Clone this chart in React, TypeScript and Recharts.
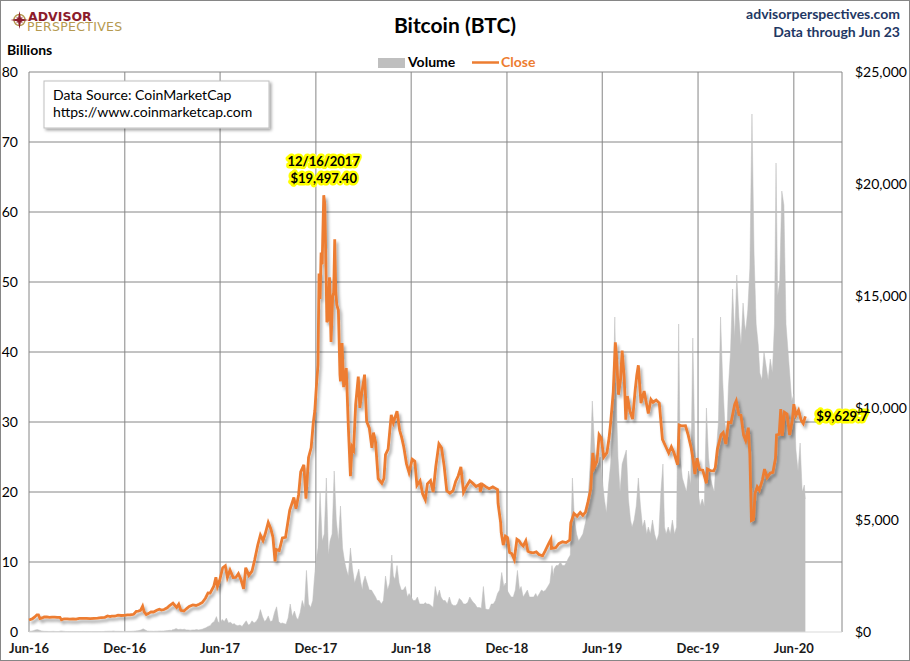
import React from 'react';
import { ComposedChart, Area, Line, XAxis, YAxis, CartesianGrid, ReferenceDot } from 'recharts';

const FONT = 'Lato, "Open Sans", sans-serif';
const ORANGE = '#ED7D31';
const GREY = '#BFBFBF';
const NAVY = '#1F3864';

// ---------- axes / categories ----------
const xTickDates = ['2016-06-01', '2016-12-01', '2017-06-01', '2017-12-01', '2018-06-01', '2018-12-01', '2019-06-01', '2019-12-01', '2020-06-01'];
const xTickLabels = ['Jun-16', 'Dec-16', 'Jun-17', 'Dec-17', 'Jun-18', 'Dec-18', 'Jun-19', 'Dec-19', 'Jun-20'];
const xDomainDates = ['2016-06-01', '2020-09-01'];
const volumeTicks = [0, 10, 20, 30, 40, 50, 60, 70, 80];
const closeTicks = [0, 5000, 10000, 15000, 20000, 25000];
const volumeDays = [1, 5, 9, 13, 17, 21, 25, 28];
const volumeLastDays = [1, 5, 9, 13, 17, 21, 23];

// ---------- Close (USD) ----------
type Pair = [string, number];
const close2016: Pair[] = [
  ['2016-06-01', 537], ['2016-06-07', 585], ['2016-06-12', 672], ['2016-06-16', 766], ['2016-06-19', 762], ['2016-06-22', 597],
  ['2016-06-26', 629], ['2016-06-30', 673], ['2016-07-05', 670], ['2016-07-10', 650], ['2016-07-15', 664], ['2016-07-20', 665],
  ['2016-07-25', 655], ['2016-07-30', 655], ['2016-08-02', 547], ['2016-08-07', 589], ['2016-08-13', 585], ['2016-08-18', 574],
  ['2016-08-24', 580], ['2016-08-30', 577], ['2016-09-05', 607], ['2016-09-12', 608], ['2016-09-19', 611], ['2016-09-26', 601],
  ['2016-10-03', 611], ['2016-10-10', 617], ['2016-10-17', 639], ['2016-10-24', 655], ['2016-10-29', 714], ['2016-11-03', 688],
  ['2016-11-06', 712], ['2016-11-12', 705], ['2016-11-18', 751], ['2016-11-24', 736], ['2016-11-30', 742], ['2016-12-06', 764],
  ['2016-12-12', 770], ['2016-12-18', 791], ['2016-12-23', 922], ['2016-12-27', 933], ['2016-12-31', 964],
];
const close2017: Pair[] = [
  ['2017-01-04', 1154], ['2017-01-07', 895], ['2017-01-11', 777], ['2017-01-15', 822], ['2017-01-20', 897], ['2017-01-25', 894],
  ['2017-01-31', 971], ['2017-02-05', 1016], ['2017-02-09', 976], ['2017-02-14', 1003], ['2017-02-20', 1080], ['2017-02-24', 1173],
  ['2017-03-03', 1285], ['2017-03-10', 1098], ['2017-03-14', 1243], ['2017-03-18', 969], ['2017-03-24', 937], ['2017-03-29', 1045],
  ['2017-04-03', 1141], ['2017-04-10', 1208], ['2017-04-16', 1186], ['2017-04-22', 1242], ['2017-04-28', 1317], ['2017-05-04', 1508],
  ['2017-05-09', 1743], ['2017-05-13', 1739], ['2017-05-20', 2041], ['2017-05-24', 2443], ['2017-05-27', 2038], ['2017-05-31', 2286],
  ['2017-06-06', 2870], ['2017-06-11', 2958], ['2017-06-15', 2442], ['2017-06-20', 2763], ['2017-06-26', 2427], ['2017-07-01', 2434],
  ['2017-07-06', 2608], ['2017-07-11', 2333], ['2017-07-16', 1929], ['2017-07-20', 2868], ['2017-07-26', 2529], ['2017-08-01', 2718],
  ['2017-08-06', 3213], ['2017-08-12', 3884], ['2017-08-17', 4331], ['2017-08-22', 4087], ['2017-08-26', 4364], ['2017-09-01', 4892],
  ['2017-09-06', 4598], ['2017-09-10', 4229], ['2017-09-14', 3154], ['2017-09-16', 3682], ['2017-09-22', 3632], ['2017-09-28', 4197],
  ['2017-10-04', 4225], ['2017-10-12', 5431], ['2017-10-20', 6006], ['2017-10-24', 5504], ['2017-10-29', 6130], ['2017-11-02', 7144],
  ['2017-11-08', 7459], ['2017-11-12', 5950], ['2017-11-17', 7790], ['2017-11-22', 8233], ['2017-11-26', 9330], ['2017-11-29', 9888],
  ['2017-12-02', 10975], ['2017-12-05', 11917], ['2017-12-07', 16007], ['2017-12-09', 14869], ['2017-12-11', 16937], ['2017-12-13', 16408],
  ['2017-12-16', 19497.4], ['2017-12-18', 19114], ['2017-12-20', 16624], ['2017-12-22', 13831], ['2017-12-24', 13926], ['2017-12-27', 15838],
  ['2017-12-30', 12952],
];
const close2018: Pair[] = [
  ['2018-01-02', 14982], ['2018-01-04', 15156], ['2018-01-06', 17527], ['2018-01-08', 15170], ['2018-01-10', 14595], ['2018-01-13', 14360],
  ['2018-01-16', 11490], ['2018-01-17', 11188], ['2018-01-20', 12899], ['2018-01-23', 10930], ['2018-01-28', 11786], ['2018-02-01', 9170],
  ['2018-02-05', 6955], ['2018-02-08', 8265], ['2018-02-11', 8130], ['2018-02-15', 10166], ['2018-02-20', 11403], ['2018-02-23', 10005],
  ['2018-02-27', 10721], ['2018-03-04', 11489], ['2018-03-08', 9395], ['2018-03-13', 9113], ['2018-03-18', 8223], ['2018-03-21', 8900],
  ['2018-03-25', 8470], ['2018-03-30', 6845], ['2018-04-06', 6636], ['2018-04-10', 6854], ['2018-04-13', 7920], ['2018-04-18', 8163],
  ['2018-04-24', 9698], ['2018-04-28', 9346], ['2018-05-05', 9858], ['2018-05-10', 9006], ['2018-05-14', 8676], ['2018-05-18', 8247],
  ['2018-05-23', 7519], ['2018-05-28', 7117], ['2018-06-03', 7714], ['2018-06-08', 7624], ['2018-06-12', 6544], ['2018-06-18', 6753],
  ['2018-06-23', 6160], ['2018-06-28', 5904], ['2018-07-02', 6617], ['2018-07-08', 6759], ['2018-07-13', 6248], ['2018-07-18', 7378],
  ['2018-07-24', 8398], ['2018-07-29', 8221], ['2018-08-03', 7418], ['2018-08-08', 6305], ['2018-08-14', 6200], ['2018-08-20', 6308],
  ['2018-08-25', 6720], ['2018-08-30', 6976], ['2018-09-04', 7367], ['2018-09-09', 6240], ['2018-09-15', 6520], ['2018-09-21', 6754],
  ['2018-09-27', 6634], ['2018-10-03', 6498], ['2018-10-10', 6584], ['2018-10-11', 6254], ['2018-10-15', 6597], ['2018-10-22', 6476],
  ['2018-10-28', 6397], ['2018-11-04', 6477], ['2018-11-09', 6412], ['2018-11-13', 6359], ['2018-11-14', 5738], ['2018-11-19', 4871],
  ['2018-11-20', 4452], ['2018-11-24', 3880], ['2018-11-28', 4278], ['2018-12-02', 4214], ['2018-12-06', 3546], ['2018-12-10', 3506],
  ['2018-12-15', 3236], ['2018-12-20', 4141], ['2018-12-24', 4070], ['2018-12-28', 3924],
];
const close2019: Pair[] = [
  ['2019-01-01', 3843], ['2019-01-06', 4077], ['2019-01-10', 3603], ['2019-01-15', 3552], ['2019-01-20', 3536], ['2019-01-26', 3580],
  ['2019-01-31', 3457], ['2019-02-07', 3399], ['2019-02-12', 3625], ['2019-02-18', 3914], ['2019-02-23', 4143], ['2019-02-24', 3730],
  ['2019-03-04', 3761], ['2019-03-10', 3944], ['2019-03-17', 4025], ['2019-03-24', 3992], ['2019-03-31', 4105], ['2019-04-02', 4879],
  ['2019-04-08', 5290], ['2019-04-14', 5167], ['2019-04-20', 5336], ['2019-04-25', 5210], ['2019-04-30', 5350], ['2019-05-05', 5831],
  ['2019-05-10', 6384], ['2019-05-14', 7994], ['2019-05-17', 7360], ['2019-05-22', 7626], ['2019-05-26', 8805], ['2019-05-30', 8664],
  ['2019-06-04', 7809], ['2019-06-10', 8008], ['2019-06-14', 8659], ['2019-06-17', 9323], ['2019-06-22', 10701], ['2019-06-26', 12932],
  ['2019-06-28', 12407], ['2019-07-02', 10594], ['2019-07-06', 11282], ['2019-07-09', 12567], ['2019-07-13', 11354], ['2019-07-16', 9478],
  ['2019-07-19', 10535], ['2019-07-24', 9844], ['2019-07-29', 9508], ['2019-08-03', 10821], ['2019-08-06', 11461], ['2019-08-09', 11906],
  ['2019-08-14', 10218], ['2019-08-20', 10759], ['2019-08-28', 9757], ['2019-09-02', 10385], ['2019-09-06', 10256], ['2019-09-12', 10353],
  ['2019-09-18', 10219], ['2019-09-24', 8600], ['2019-09-30', 8293], ['2019-10-06', 7988], ['2019-10-11', 8270], ['2019-10-16', 8000],
  ['2019-10-23', 7466], ['2019-10-26', 9244], ['2019-10-31', 9199], ['2019-11-07', 9205], ['2019-11-12', 8807], ['2019-11-18', 8206],
  ['2019-11-22', 7627], ['2019-11-25', 7047], ['2019-11-29', 7761], ['2019-12-04', 7253], ['2019-12-10', 7222], ['2019-12-17', 6640],
  ['2019-12-19', 7277], ['2019-12-25', 7204], ['2019-12-31', 7194],
];
const close2020: Pair[] = [
  ['2020-01-03', 7345], ['2020-01-07', 8164], ['2020-01-14', 8812], ['2020-01-18', 8907], ['2020-01-23', 8390], ['2020-01-28', 9358],
  ['2020-02-02', 9345], ['2020-02-09', 10164], ['2020-02-12', 10327], ['2020-02-17', 9706], ['2020-02-21', 9678], ['2020-02-26', 8785],
  ['2020-03-01', 8545], ['2020-03-06', 9122], ['2020-03-09', 7912], ['2020-03-12', 4971], ['2020-03-16', 5015], ['2020-03-19', 6191],
  ['2020-03-23', 6483], ['2020-03-27', 6334], ['2020-04-02', 6793], ['2020-04-06', 7271], ['2020-04-11', 6891], ['2020-04-17', 7097],
  ['2020-04-22', 7129], ['2020-04-27', 7755], ['2020-04-29', 8798], ['2020-05-04', 8821], ['2020-05-07', 9952], ['2020-05-10', 8757],
  ['2020-05-14', 9812], ['2020-05-19', 9730], ['2020-05-24', 8790], ['2020-05-29', 9439], ['2020-06-01', 10167], ['2020-06-05', 9666],
  ['2020-06-10', 9898], ['2020-06-15', 9450], ['2020-06-19', 9308], ['2020-06-23', 9629.7],
];

// ---------- Volume (billions), one row per month, sampled on volumeDays ----------
const vol2016 = [ // Jun..Dec
  [0.10, 0.12, 0.18, 0.30, 0.35, 0.25, 0.15, 0.12],
  [0.10, 0.09, 0.08, 0.08, 0.10, 0.08, 0.07, 0.07],
  [0.15, 0.12, 0.08, 0.07, 0.06, 0.06, 0.06, 0.06],
  [0.07, 0.06, 0.07, 0.08, 0.06, 0.06, 0.07, 0.07],
  [0.06, 0.06, 0.06, 0.07, 0.06, 0.07, 0.10, 0.10],
  [0.12, 0.10, 0.15, 0.10, 0.10, 0.09, 0.09, 0.08],
  [0.08, 0.09, 0.10, 0.10, 0.12, 0.15, 0.18, 0.20],
];
const vol2017 = [
  [0.30, 0.45, 0.30, 0.15, 0.12, 0.12, 0.10, 0.12],
  [0.12, 0.15, 0.14, 0.15, 0.18, 0.20, 0.25, 0.22],
  [0.30, 0.35, 0.50, 0.35, 0.40, 0.35, 0.40, 0.30],
  [0.30, 0.25, 0.30, 0.30, 0.35, 0.30, 0.35, 0.40],
  [0.50, 0.60, 0.80, 0.90, 1.30, 1.50, 2.20, 1.50],
  [1.2, 1.8, 1.5, 2.0, 1.3, 1.4, 1.1, 1.2],
  [1.0, 0.9, 1.0, 0.8, 1.2, 1.6, 1.0, 1.1],
  [1.6, 1.3, 1.5, 2.0, 3.2, 2.2, 1.5, 1.7],
  [2.3, 1.5, 1.6, 2.8, 3.6, 1.5, 1.2, 1.3],
  [1.2, 1.1, 2.0, 4.0, 2.2, 3.0, 2.0, 1.8],
  [2.8, 4.5, 3.5, 8.8, 4.0, 3.5, 4.5, 7.5],
  [10, 12, 20, 13, 14, 22, 11, 13],
];
const vol2018 = [
  [14, 23, 16, 13, 18, 12, 10, 9],
  [8, 12, 9, 7, 8, 9, 7, 6],
  [7, 8, 7, 6, 6, 5.5, 5, 4.5],
  [4.5, 4, 4.5, 8, 6, 7, 11, 8],
  [7.5, 9.5, 7, 6, 6, 6.5, 5, 5.5],
  [5, 4.5, 4.5, 5, 4, 4, 4, 4.2],
  [4, 4, 3.8, 3.5, 6.5, 5, 6, 5],
  [4.5, 4.5, 4, 5, 4, 3.8, 3.8, 4],
  [4.8, 4.5, 4, 4, 4.2, 5, 4.5, 4.2],
  [4, 3.5, 3.5, 3.4, 6.5, 3.3, 3.2, 3.2],
  [4, 4, 4.5, 5.5, 6, 8.5, 6.5, 7],
  [6, 5.5, 5, 5, 6, 8.8, 6, 6.5],
];
const vol2019 = [
  [5, 5.5, 6, 5, 5, 5, 5.5, 5],
  [5.5, 6, 5.8, 6, 6.5, 7, 9.5, 8],
  [9, 9.5, 9.5, 10, 9.5, 9.5, 10, 10.5],
  [11, 22, 16, 14, 13, 13.5, 14, 15],
  [16, 19, 24, 33, 27, 23, 24, 25],
  [22, 19, 17, 21, 24, 30, 45, 33],
  [25, 20, 24, 25, 26, 19, 16, 15],
  [16, 18, 22, 18, 15, 16, 14, 15],
  [14, 16, 14, 13, 14, 20, 24, 15],
  [14, 15, 14, 16, 14, 15, 44, 25],
  [22, 21, 20, 23, 21, 42, 26, 23],
  [20, 18, 19, 18, 32, 25, 22, 21],
];
const vol2020 = [
  [20, 26, 30, 45, 36, 30, 28, 35],
  [40, 49, 42, 51, 45, 41, 47, 44],
  [43, 46, 52, 74, 54, 44, 41, 37],
  [36, 40, 38, 36, 39, 37, 44, 67],
  [48, 50, 63, 61, 44, 40, 36, 33],
  [34, 26, 23, 27, 20, 21, 19], // Jun, through Jun 23
];

// ---------- build ----------
const toDay = (s: string) => {
  const [y, m, d] = s.split('-').map(Number);
  return Date.UTC(y, m - 1, d) / 86400000;
};
const closeData = [...close2016, ...close2017, ...close2018, ...close2019, ...close2020].map(([d, v]) => ({ x: toDay(d), close: v }));

const volumeData: { x: number; vol: number }[] = [];
const addVolume = (year: number, firstMonth: number, rows: number[][]) => {
  rows.forEach((row, i) => {
    const days = row.length === volumeDays.length ? volumeDays : volumeLastDays;
    row.forEach((v, j) => volumeData.push({ x: Date.UTC(year, firstMonth - 1 + i, days[j]) / 86400000, vol: v }));
  });
};
addVolume(2016, 6, vol2016);
addVolume(2017, 1, vol2017);
addVolume(2018, 1, vol2018);
addVolume(2019, 1, vol2019);
addVolume(2020, 1, vol2020);

const xTicks = xTickDates.map(toDay);
const xDomain = xDomainDates.map(toDay);
const peak = closeData.reduce((a, b) => (b.close > a.close ? b : a));
const last = closeData[closeData.length - 1];

const fmtUSD = (v: number) => '$' + v.toLocaleString('en-US');
const fmtDate = (day: number) => {
  const d = new Date(day * 86400000);
  return `${d.getUTCMonth() + 1}/${d.getUTCDate()}/${d.getUTCFullYear()}`;
};
const hl = { stroke: '#FFFF00', strokeWidth: 5, strokeLinejoin: 'round' as const, paintOrder: 'stroke' as const };

export default function App() {
  return (
    <div style={{ position: 'absolute', left: 0, top: 0, width: 910, height: 661, background: '#fff', fontFamily: FONT }}>
      <style>{`.recharts-line-curve{filter:url(#lineShadow);}`}</style>
      <ComposedChart width={910} height={661} margin={{ top: 72, right: 0, bottom: 0, left: 0 }}>
        <defs>
          <filter id="lineShadow" x="-5%" y="-5%" width="110%" height="115%">
            <feDropShadow dx="2" dy="3" stdDeviation="1.4" floodColor="#000" floodOpacity="0.35" />
          </filter>
        </defs>
        <CartesianGrid yAxisId="left" stroke="#868686" strokeWidth={1} horizontalValues={volumeTicks.slice(1)} />
        <XAxis
          dataKey="x"
          type="number"
          domain={xDomain}
          ticks={xTicks}
          interval={0}
          height={29}
          tickLine={false}
          tickSize={0}
          tickMargin={12}
          axisLine={{ stroke: '#D9D9D9' }}
          tickFormatter={(v: number) => xTickLabels[xTicks.indexOf(v)] ?? ''}
          tick={{ fontSize: 13, fontWeight: 700, fill: '#1a1a1a', fontFamily: FONT }}
        />
        <YAxis
          yAxisId="left"
          orientation="left"
          width={29}
          domain={[0, 80]}
          ticks={volumeTicks}
          interval={0}
          axisLine={false}
          tickLine={false}
          tickSize={0}
          tickMargin={11}
          tick={{ fontSize: 14, fill: '#000', fontFamily: FONT }}
        />
        <YAxis
          yAxisId="right"
          orientation="right"
          width={68}
          domain={[0, 25000]}
          ticks={closeTicks}
          interval={0}
          axisLine={false}
          tickLine={false}
          tickSize={0}
          tickMargin={13}
          tickFormatter={fmtUSD}
          tick={{ fontSize: 14, fill: '#000', fontFamily: FONT, textAnchor: 'start' }}
        />
        <Area
          yAxisId="left"
          data={volumeData}
          dataKey="vol"
          type="linear"
          stroke={GREY}
          strokeWidth={0.5}
          fill={GREY}
          fillOpacity={1}
          dot={false}
          activeDot={false}
          isAnimationActive={false}
        />
        <Line
          yAxisId="right"
          data={closeData}
          dataKey="close"
          type="linear"
          stroke={ORANGE}
          strokeWidth={2.8}
          dot={false}
          activeDot={false}
          isAnimationActive={false}
        />
        <ReferenceDot
          yAxisId="right"
          x={peak.x}
          y={peak.close}
          r={0}
          ifOverflow="visible"
          shape={(p: any) => (
            <g fontFamily={FONT} fontWeight={700} fontSize={13} fill="#000" textAnchor="middle">
              <text x={p.cx} y={p.cy - 29} {...hl}>{fmtDate(peak.x)}</text>
              <text x={p.cx} y={p.cy - 12} {...hl}>{'$' + peak.close.toLocaleString('en-US', { minimumFractionDigits: 2 })}</text>
            </g>
          )}
        />
        <ReferenceDot
          yAxisId="right"
          x={last.x}
          y={last.close}
          r={0}
          ifOverflow="visible"
          shape={(p: any) => (
            <text x={p.cx + 11} y={p.cy + 5} fontFamily={FONT} fontWeight={700} fontSize={13} fill="#000" {...hl}>
              {'$' + last.close.toLocaleString('en-US', { minimumFractionDigits: 1 })}
            </text>
          )}
        />
      </ComposedChart>

      <svg width={910} height={661} style={{ position: 'absolute', left: 0, top: 0, pointerEvents: 'none' }}>
        <defs>
          <filter id="boxShadow" x="-10%" y="-20%" width="120%" height="150%">
            <feDropShadow dx="2" dy="2" stdDeviation="1.5" floodColor="#000" floodOpacity="0.35" />
          </filter>
        </defs>
        {/* logo */}
        <g>
          <circle cx={19.5} cy={20} r={5.5} fill="none" stroke="#B59A4F" strokeWidth={1.4} />
          <polygon points="19.5,11 21,18.5 28.5,20 21,21.5 19.5,29 18,21.5 10.5,20 18,18.5" fill="#8C1C2C" />
          <polygon points="19.5,15 20.3,19.2 24.5,20 20.3,20.8 19.5,25 18.7,20.8 14.5,20 18.7,19.2" fill="#8C1C2C" transform="rotate(45 19.5 20)" />
        </g>
        <text x={28} y={20.5} fontFamily='"DejaVu Sans", sans-serif' fontWeight={700} fontSize={12.5} fill="#8C1C2C">ADVISOR</text>
        <text x={27} y={31} fontFamily='"DejaVu Sans", sans-serif' fontSize={12.5} letterSpacing={0.3} fill="#B59A4F">PERSPECTIVES</text>

        <text x={455} y={33} textAnchor="middle" fontFamily={FONT} fontWeight={700} fontSize={21} fill="#000">Bitcoin (BTC)</text>
        <text x={900} y={19} textAnchor="end" fontFamily={FONT} fontWeight={700} fontSize={14} fill={NAVY}>advisorperspectives.com</text>
        <text x={900} y={37} textAnchor="end" fontFamily={FONT} fontWeight={700} fontSize={14} fill={NAVY}>Data through Jun 23</text>
        <text x={7} y={55} fontFamily={FONT} fontWeight={700} fontSize={14} fill="#000">Billions</text>

        {/* legend */}
        <rect x={378} y={58} width={27} height={10} fill={GREY} />
        <text x={408} y={67} fontFamily={FONT} fontWeight={700} fontSize={14} fill="#000">Volume</text>
        <line x1={472} x2={499} y1={62.5} y2={62.5} stroke={ORANGE} strokeWidth={2.5} />
        <text x={501} y={67} fontFamily={FONT} fontWeight={700} fontSize={14} fill={ORANGE}>Close</text>

        {/* data source box */}
        <rect x={44} y={81} width={225} height={47} fill="#fff" stroke="#BFBFBF" strokeWidth={1} filter="url(#boxShadow)" />
        <text x={53} y={100} fontFamily={FONT} fontSize={14} fill="#000">Data Source: CoinMarketCap</text>
        <text x={53} y={117} fontFamily={FONT} fontSize={14} fill="#000">https://www.coinmarketcap.com</text>

        <rect x={0.5} y={0.5} width={909} height={660} fill="none" stroke="#868686" strokeWidth={1} />
      </svg>
    </div>
  );
}
